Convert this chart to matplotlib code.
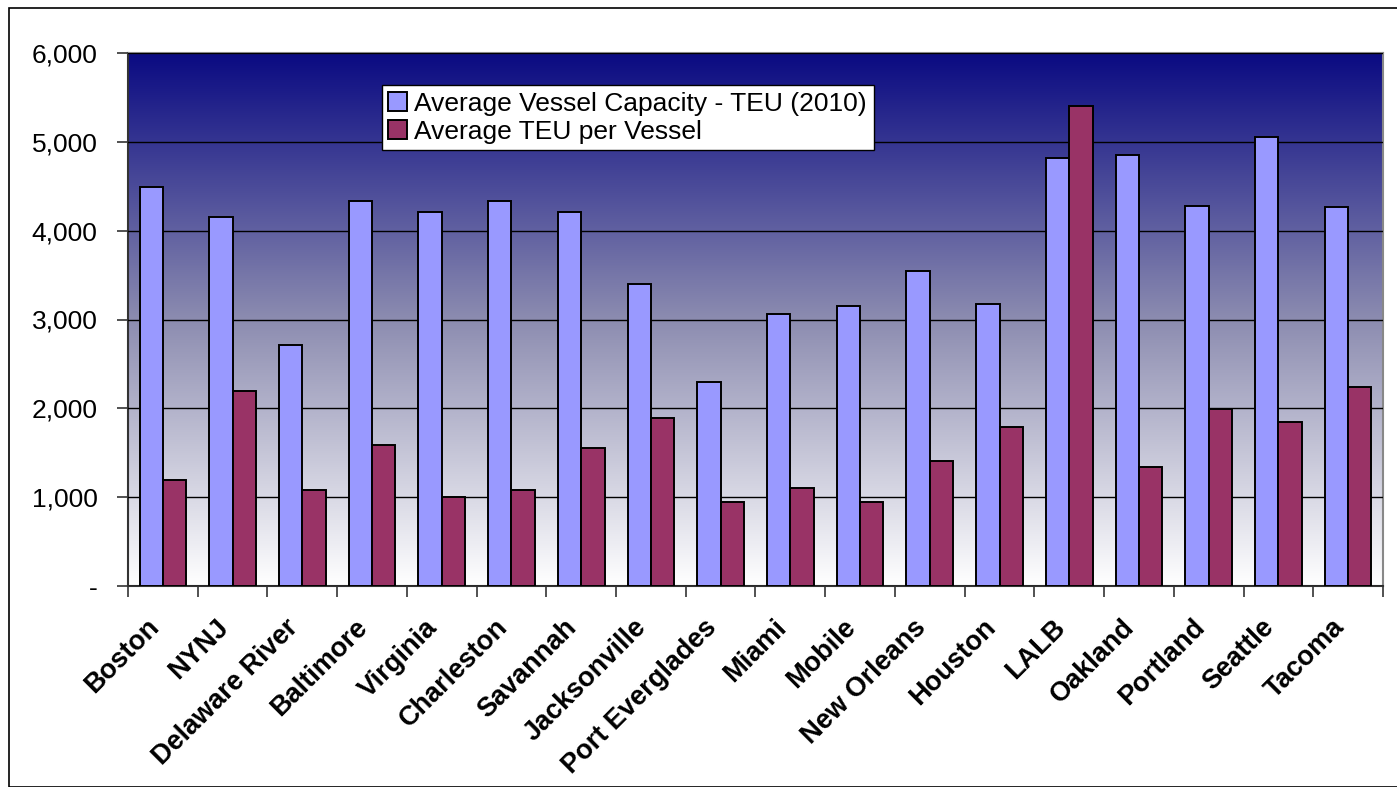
import numpy as np
import matplotlib
matplotlib.use("Agg")
import matplotlib.pyplot as plt
import matplotlib.transforms as mtransforms
from matplotlib.colors import LinearSegmentedColormap
from matplotlib.ticker import FuncFormatter

# ===============================
# DATA
# ===============================
ports = ["Boston", "NYNJ", "Delaware River", "Baltimore", "Virginia", "Charleston",
         "Savannah", "Jacksonville", "Port Everglades", "Miami", "Mobile",
         "New Orleans", "Houston", "LALB", "Oakland", "Portland", "Seattle", "Tacoma"]
capacity = [4490, 4150, 2715, 4335, 4210, 4335, 4210, 3400, 2300, 3060, 3150,
            3545, 3175, 4815, 4850, 4275, 5055, 4270]
teu_per_vessel = [1190, 2195, 1080, 1590, 1000, 1080, 1555, 1890, 950, 1105, 945,
                  1405, 1790, 5405, 1340, 1990, 1845, 2235]
yticks = [0, 1000, 2000, 3000, 4000, 5000, 6000]

plt.rcParams["font.family"] = ["Liberation Sans", "DejaVu Sans"]

# ===============================
# FIGURE
# ===============================
fig = plt.figure(figsize=(13.97, 7.87), dpi=100)
ax = fig.add_axes([128 / 1397, 1 - 586 / 787, (1383 - 128) / 1397, (586 - 53) / 787])

# outer chart border
fig.patches.append(plt.Rectangle((9 / 1397, 0), 1.2, 1 - 8 / 787, transform=fig.transFigure,
                                 fill=False, edgecolor="black", linewidth=1.2))

# gradient background (navy top -> white bottom)
n = len(ports)
cmap = LinearSegmentedColormap.from_list("bg", ["#ffffff", "#8c8cb0", "#0a0a82"])
grad = np.linspace(0, 1, 256).reshape(-1, 1)
ax.imshow(grad, cmap=cmap, aspect="auto", origin="lower",
          extent=[-0.5, n - 0.5, 0, 6000], zorder=0)

x = np.arange(n)
w = 0.335
ax.bar(x - w / 2, capacity, w, color="#9999ff", edgecolor="black", linewidth=1.4,
       label="Average Vessel Capacity - TEU (2010)", zorder=3)
ax.bar(x + w / 2, teu_per_vessel, w, color="#993366", edgecolor="black", linewidth=1.4,
       label="Average TEU per Vessel", zorder=3)

ax.set_xlim(-0.5, n - 0.5)
ax.set_ylim(0, 6000)
ax.set_yticks(yticks)
ax.yaxis.set_major_formatter(FuncFormatter(lambda v, p: "-" if v == 0 else f"{int(v):,}"))
ax.grid(axis="y", color="black", linewidth=1.0, zorder=1)
ax.set_axisbelow(False)

# category labels centered, ticks on boundaries
ax.set_xticks(x)
ax.set_xticklabels(ports, rotation=45, ha="right", va="center", rotation_mode="anchor",
                   fontsize=19.5, fontweight="bold")
ax.tick_params(axis="x", which="major", length=0, pad=27)
shift = mtransforms.ScaledTranslation(-8 / 100, 0, fig.dpi_scale_trans)
for lbl in ax.get_xticklabels():
    lbl.set_transform(lbl.get_transform() + shift)
ax.set_xticks(np.arange(-0.5, n, 1), minor=True)
ax.tick_params(axis="x", which="minor", length=8, width=1.2, color="#333333", direction="out")
ax.tick_params(axis="y", labelsize=19, length=8, width=1.2, color="#333333", pad=14)

for side in ["left", "bottom"]:
    ax.spines[side].set_color("#333333")
    ax.spines[side].set_linewidth(1.5)
for side in ["top", "right"]:
    ax.spines[side].set_color("#888888")
    ax.spines[side].set_linewidth(1.5)

leg = ax.legend(loc="upper left", bbox_to_anchor=(0.202, 0.94), fontsize=19,
                frameon=True, fancybox=False, framealpha=1, edgecolor="black",
                handlelength=0.7, handleheight=0.7, handletextpad=0.3,
                borderpad=0.25, labelspacing=0.15, borderaxespad=0)
leg.get_frame().set_linewidth(1.0)

fig.savefig("out.png", dpi=100)
